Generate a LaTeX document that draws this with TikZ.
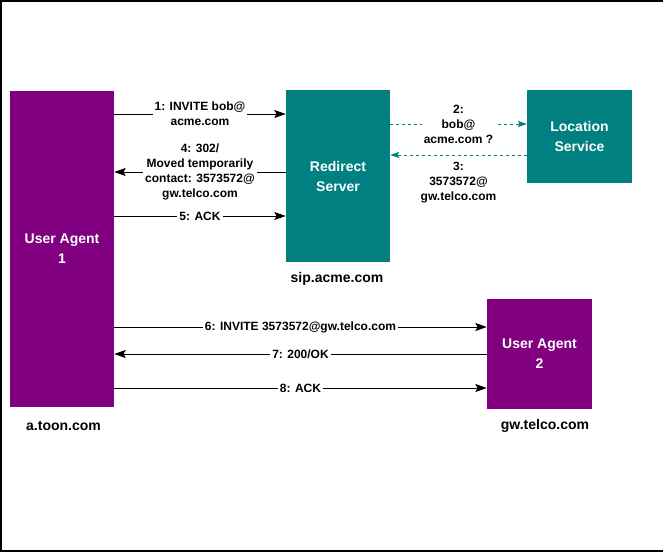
\documentclass[tikz,border=0pt]{standalone}
\usepackage{fontspec}
\setmainfont{Liberation Sans}
\usetikzlibrary{arrows.meta}
\definecolor{uapurple}{HTML}{800080}
\definecolor{srvteal}{HTML}{008080}
\begin{document}
\begin{tikzpicture}[x=0.75pt,y=-0.75pt,
  box/.style={inner sep=0pt, align=center, text=white, font=\bfseries\fontsize{10.5}{15}\selectfont},
  ua/.style={box, fill=uapurple},
  srv/.style={box, fill=srvteal},
  host/.style={inner sep=0pt, font=\bfseries\fontsize{10.5}{13}\selectfont},
  msg/.style={line width=0.75pt, -{Stealth[length=8.5pt,width=6pt,inset=1.5pt]}},
  qry/.style={line width=0.75pt, srvteal, dash pattern=on 2.25pt off 2.25pt, -{Stealth[length=6.5pt,width=4.5pt,inset=1pt]}},
  lbl/.style={fill=white, inner sep=1.5pt, align=center, text=black, font=\bfseries\fontsize{9}{11.25}\selectfont},
]
\useasboundingbox (0,0) rectangle (663,553);
\draw[line width=1.5pt] (663,1) -- (1,1) -- (1,551) -- (663,551);

% boxes
\node[ua, minimum width=78pt, minimum height=237pt] (ua1) at (62,249) {User Agent\\1};
\node[srv, minimum width=78pt, minimum height=129pt] (rs) at (338,176) {Redirect\\Server};
\node[srv, minimum width=78.75pt, minimum height=69.75pt] (ls) at (579.5,136.5) {Location\\Service};
\node[ua, minimum width=78.75pt, minimum height=82.5pt] (ua2) at (539.5,354) {User Agent\\2};

% host labels
\node[host] (h1) at (63.5,426) {a.toon.com};
\node[host] (h2) at (337,279) {sip.acme.com};
\node[host] (h3) at (545,426) {gw.telco.com};

% message rows
\coordinate (r1) at (0,114);
\coordinate (r2) at (0,124);
\coordinate (r3) at (0,155);
\coordinate (r4) at (0,172);
\coordinate (r5) at (0,216);
\coordinate (r6) at (0,327);
\coordinate (r7) at (0,354);
\coordinate (r8) at (0,388);

\draw[msg] (ua1.east |- r1) -- (rs.west |- r1) node[midway, lbl] {1: INVITE bob@\\acme.com};
\draw[qry] (rs.east |- r2) -- (ls.west |- r2) node[midway, lbl] {2:\\bob@\\acme.com ?};
\draw[qry] (ls.west |- r3) -- (rs.east |- r3) node[midway, lbl, anchor=north, fill=none, inner sep=3pt, yshift=-2.25pt] {3:\\3573572@\\gw.telco.com};
\draw[msg] (rs.west |- r4) -- (ua1.east |- r4) node[midway, lbl] {4: 302/\\Moved temporarily\\contact: 3573572@\\gw.telco.com};
\draw[msg] (ua1.east |- r5) -- (rs.west |- r5) node[midway, lbl] {5: ACK};
\draw[msg] (ua1.east |- r6) -- (ua2.west |- r6) node[midway, lbl] {6: INVITE 3573572@gw.telco.com};
\draw[msg] (ua2.west |- r7) -- (ua1.east |- r7) node[midway, lbl] {7: 200/OK};
\draw[msg] (ua1.east |- r8) -- (ua2.west |- r8) node[midway, lbl] {8: ACK};
\end{tikzpicture}
\end{document}
